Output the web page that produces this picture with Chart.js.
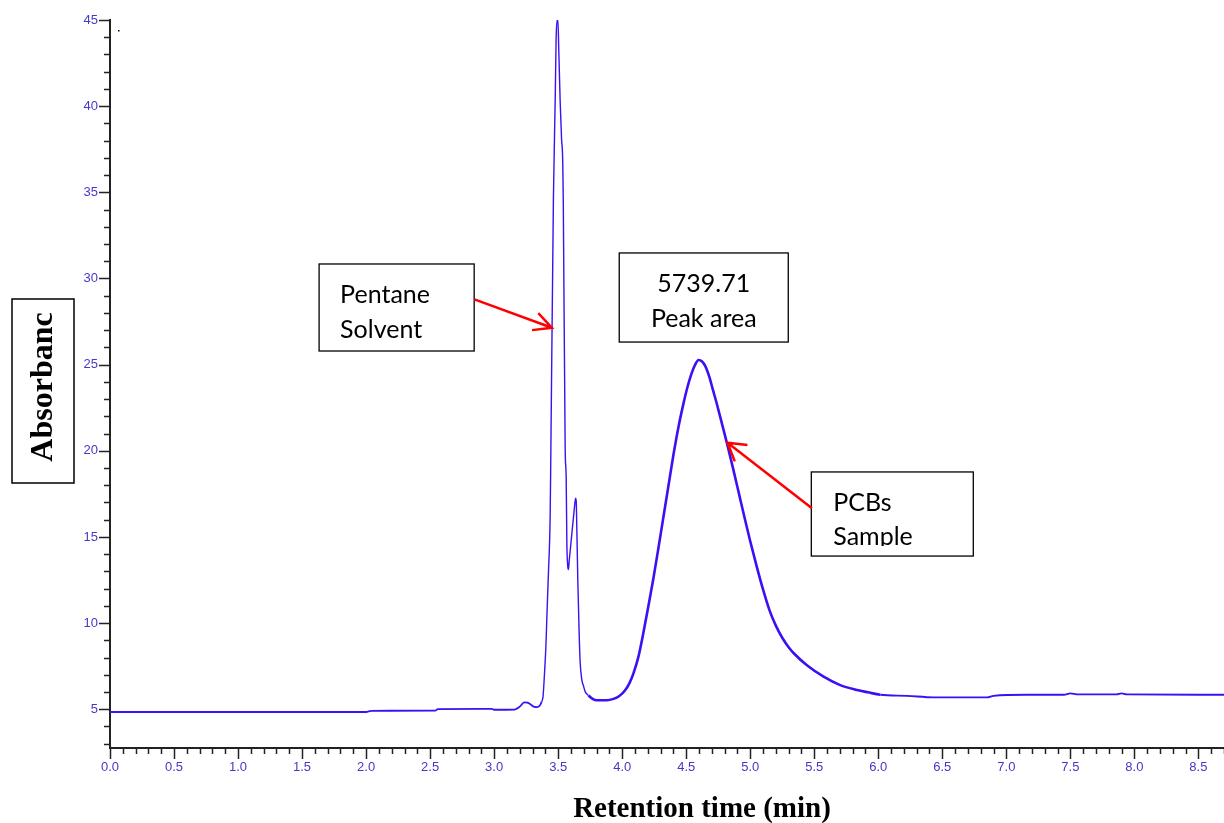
<!DOCTYPE html>
<html>
<head>
<meta charset="utf-8">
<title>Chromatogram</title>
<script src="https://cdn.jsdelivr.net/npm/chart.js@4"></script>
<style>
  body { margin: 0; background: #fff; }
  canvas { display: block; }
</style>
</head>
<body>
<canvas id="chart" width="1224" height="823"></canvas>
<script>
'use strict';

// data (min, absorbance)
const retentionTime = [
  0.00, 1.00, 2.00, 2.04, 2.54, 2.56, 2.98, 3.00, 3.16, 3.20,
  3.235, 3.26, 3.285, 3.315, 3.335, 3.355, 3.372, 3.382, 3.392, 3.405,
  3.412, 3.424, 3.4375, 3.443, 3.463, 3.477, 3.484, 3.492, 3.498, 3.505,
  3.516, 3.526, 3.536, 3.540, 3.555, 3.5625, 3.568, 3.575, 3.580, 3.586,
  3.594, 3.607, 3.627, 3.636, 3.641, 3.646, 3.654, 3.664, 3.672, 3.685,
  3.698, 3.711, 3.737, 3.776, 3.80, 3.88, 3.932, 3.975, 4.023, 4.056,
  4.088, 4.127, 4.166, 4.205, 4.245, 4.284, 4.323, 4.362, 4.40, 4.44,
  4.479, 4.51, 4.54, 4.57, 4.596, 4.622, 4.65, 4.68, 4.71, 4.74,
  4.78, 4.823, 4.87, 4.92, 4.96, 5.00, 5.052, 5.10, 5.15, 5.20,
  5.25, 5.30, 5.34, 5.443, 5.573, 5.703, 5.833, 5.92, 6.016, 6.224,
  6.432, 6.85, 6.90, 7.16, 7.45, 7.50, 7.56, 7.86, 7.90, 7.94, 8.70
];
const absorbance = [
  4.84, 4.84, 4.84, 4.91, 4.92, 5.01, 5.02, 4.97, 4.98, 5.15,
  5.40, 5.38, 5.28, 5.13, 5.12, 5.20, 5.45, 5.75, 6.9, 8.8,
  10.4, 12.9, 16.2, 20.0, 34.7, 40.4, 43.9, 45.0, 45.0, 43.2,
  40.2, 38.2, 36.7, 34.5, 20.0, 18.5, 14.6, 13.3, 13.1, 13.6,
  14.2, 15.2, 16.7, 17.25, 17.1, 15.4, 12.3, 9.4, 7.7, 6.7,
  6.35, 6.02, 5.8, 5.57, 5.52, 5.52, 5.6, 5.75, 6.1, 6.5,
  7.08, 8.05, 9.45, 11.0, 12.65, 14.4, 16.2, 18.0, 19.75, 21.4,
  22.75, 23.7, 24.45, 25.0, 25.27, 25.2, 24.9, 24.3, 23.5, 22.7,
  21.55, 20.3, 18.85, 17.25, 15.98, 14.75, 13.25, 11.95, 10.75, 9.85,
  9.15, 8.6, 8.25, 7.55, 6.89, 6.40, 6.12, 5.98, 5.84, 5.78,
  5.69, 5.69, 5.78, 5.84, 5.84, 5.92, 5.86, 5.86, 5.92, 5.86, 5.84
];

// tick labels
const xTickValues = [0, 0.5, 1, 1.5, 2, 2.5, 3, 3.5, 4, 4.5, 5, 5.5, 6, 6.5, 7, 7.5, 8, 8.5];
const yTickValues = [5, 10, 15, 20, 25, 30, 35, 40, 45];

// axis ranges
const xMin = 0;
const xMax = 8.7;
const yMin = 2.75;
const yMax = 45;

// texts
const xTitle = 'Retention time (min)';
const yTitle = 'Absorbanc';
const pentaneText = ['Pentane', 'Solvent'];
const peakAreaText = ['5739.71', 'Peak area'];
const pcbText = ['PCBs', 'Sample'];

// styles
const lineColor = '#3c0ff5';
const tickLabelColor = '#4638c8';
const arrowColor = '#ff0000';
const noteFont = '25px Lato, "Open Sans", sans-serif';

// annotation boxes in data units (textClip = px of the box the text may use)
const notes = [
  { x1: 1.633, x2: 2.844, y1: 30.84, y2: 25.79, lines: pentaneText, align: 'left', dx: 21, base: [39, 74], textClip: 999 },
  { x1: 3.977, x2: 5.297, y1: 31.48, y2: 26.31, lines: peakAreaText, align: 'center', dx: 0, base: [39, 74], textClip: 999 },
  { x1: 5.477, x2: 6.742, y1: 18.77, y2: 13.89, lines: pcbText, align: 'left', dx: 22, base: [39, 73], textClip: 74 }
];
const arrows = [
  { fromX: 2.846, fromY: 28.79, toX: 3.451, toY: 27.14, spread: 27 },
  { fromX: 5.482, fromY: 16.66, toX: 4.823, toY: 20.47, spread: 31 }
];

// thinner trace on the solvent peak, thicker on the sample peak
function segmentWidth(x) {
  if (x >= 3.37 && x < 3.72) return 1.4;
  if (x >= 3.72 && x < 6.0) return 2.6;
  return 1.8;
}

// minor and major tick marks
const tickMarks = {
  id: 'tickMarks',
  afterDraw(chart) {
    const c = chart.ctx;
    const xs = chart.scales.x;
    const ys = chart.scales.y;
    const area = chart.chartArea;
    c.save();
    c.strokeStyle = '#222';
    c.lineWidth = 1.5;
    c.beginPath();
    for (let i = 3; i <= 45; i++) {
      const py = Math.round(ys.getPixelForValue(i)) + 0.5;
      const len = i % 5 === 0 ? 11 : 6;
      c.moveTo(area.left - len, py);
      c.lineTo(area.left, py);
    }
    for (let i = 0; i <= 87; i++) {
      const px = Math.round(xs.getPixelForValue(i / 10)) + 0.5;
      const len = i % 5 === 0 ? 11 : 6;
      c.moveTo(px, area.bottom);
      c.lineTo(px, area.bottom + len);
    }
    c.stroke();
    c.restore();
  }
};

function drawArrow(c, x0, y0, x1, y1, spread) {
  const back = Math.atan2(y0 - y1, x0 - x1);
  const a = spread * Math.PI / 180;
  const len = 20;
  c.beginPath();
  c.moveTo(x0, y0);
  c.lineTo(x1, y1);
  c.moveTo(x1 + len * Math.cos(back + a), y1 + len * Math.sin(back + a));
  c.lineTo(x1, y1);
  c.lineTo(x1 + len * Math.cos(back - a), y1 + len * Math.sin(back - a));
  c.stroke();
}

// text boxes, arrows and axis titles
const annotations = {
  id: 'annotations',
  afterDraw(chart) {
    const c = chart.ctx;
    const xs = chart.scales.x;
    const ys = chart.scales.y;
    c.save();

    for (let note of notes) {
      const left = xs.getPixelForValue(note.x1);
      const right = xs.getPixelForValue(note.x2);
      const top = ys.getPixelForValue(note.y1);
      const bottom = ys.getPixelForValue(note.y2);
      c.fillStyle = '#fff';
      c.fillRect(left, top, right - left, bottom - top);
      c.save();
      c.beginPath();
      c.rect(left, top, right - left, Math.min(bottom - top, note.textClip));
      c.clip();
      c.fillStyle = '#000';
      c.font = noteFont;
      c.textBaseline = 'alphabetic';
      c.textAlign = note.align;
      const tx = note.align === 'center' ? (left + right) / 2 : left + note.dx;
      note.lines.forEach((line, i) => c.fillText(line, tx, top + note.base[i]));
      c.restore();
      c.strokeStyle = '#000';
      c.lineWidth = 1.3;
      c.strokeRect(left, top, right - left, bottom - top);
    }

    c.strokeStyle = arrowColor;
    c.lineWidth = 2.5;
    for (let arrow of arrows) {
      drawArrow(c,
        xs.getPixelForValue(arrow.fromX), ys.getPixelForValue(arrow.fromY),
        xs.getPixelForValue(arrow.toX), ys.getPixelForValue(arrow.toY),
        arrow.spread);
    }

    // y title in its box
    c.fillStyle = '#fff';
    c.fillRect(12, 299, 62, 184);
    c.strokeStyle = '#000';
    c.lineWidth = 1.5;
    c.strokeRect(12, 299, 62, 184);
    c.save();
    c.translate(52, 387);
    c.rotate(-Math.PI / 2);
    c.fillStyle = '#000';
    c.font = 'bold 32px "Liberation Serif", "Times New Roman", serif';
    c.textAlign = 'center';
    c.textBaseline = 'alphabetic';
    c.fillText(yTitle, 0, 0);
    c.restore();

    // x title
    c.fillStyle = '#000';
    c.font = 'bold 29px "Liberation Serif", "Times New Roman", serif';
    c.textAlign = 'center';
    c.textBaseline = 'alphabetic';
    c.fillText(xTitle, 702, 817);

    // stray dot near the top of the y axis
    c.fillStyle = '#000';
    c.fillRect(118, 30, 1.5, 1.5);

    c.restore();
  }
};

const ctx = document.getElementById('chart').getContext('2d');

const chromChart = new Chart(ctx, {
  type: 'line',
  data: {
    datasets: [{
      label: 'Absorbance',
      data: retentionTime.map((t, i) => ({ x: t, y: absorbance[i] })),
      borderColor: lineColor,
      borderWidth: 2,
      pointRadius: 0,
      fill: false,
      cubicInterpolationMode: 'monotone',
      segment: {
        borderWidth: seg => segmentWidth(seg.p0.parsed.x)
      }
    }]
  },
  options: {
    responsive: false,
    animation: false,
    devicePixelRatio: 1,
    layout: {
      padding: { top: 20, left: 0, right: 0, bottom: 0 }
    },
    plugins: {
      legend: { display: false },
      tooltip: { enabled: false }
    },
    scales: {
      x: {
        type: 'linear',
        min: xMin,
        max: xMax,
        afterFit: s => { s.height = 75; },
        afterBuildTicks: s => { s.ticks = xTickValues.map(v => ({ value: v })); },
        grid: { display: false, drawTicks: false, tickLength: 0 },
        border: { display: true, color: '#222', width: 2 },
        ticks: {
          padding: 12,
          color: tickLabelColor,
          font: { family: '"Liberation Sans", Arial, sans-serif', size: 13 },
          maxRotation: 0,
          autoSkip: false,
          callback: v => Number(v).toFixed(1)
        }
      },
      y: {
        type: 'linear',
        min: yMin,
        max: yMax,
        afterFit: s => { s.width = 110; },
        afterBuildTicks: s => { s.ticks = yTickValues.map(v => ({ value: v })); },
        grid: { display: false, drawTicks: false, tickLength: 0 },
        border: { display: true, color: '#222', width: 2 },
        ticks: {
          padding: 12,
          color: tickLabelColor,
          font: { family: '"Liberation Sans", Arial, sans-serif', size: 13 },
          autoSkip: false,
          callback: v => String(v)
        }
      }
    }
  },
  plugins: [tickMarks, annotations]
});
</script>
</body>
</html>
